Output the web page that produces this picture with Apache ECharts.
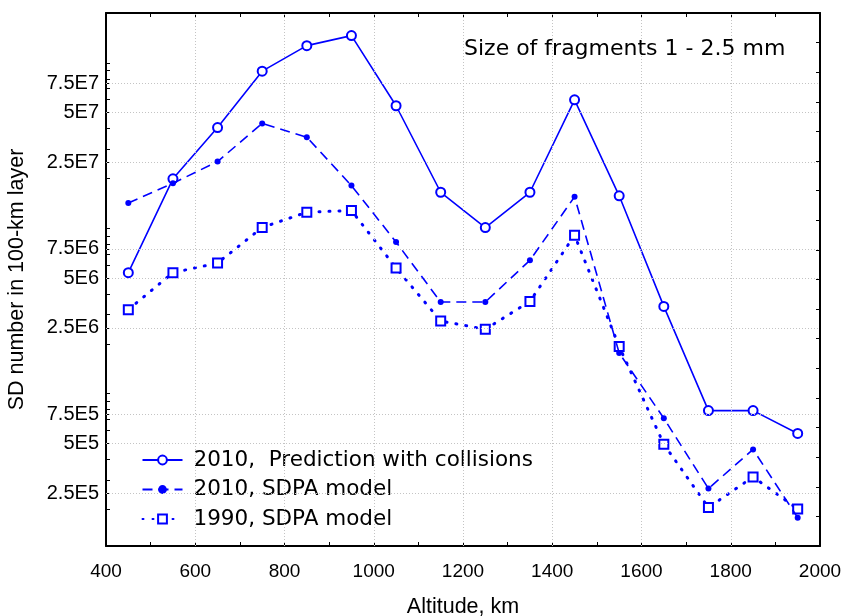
<!DOCTYPE html>
<html>
<head>
<meta charset="utf-8">
<script src="https://cdn.jsdelivr.net/npm/echarts@6/dist/echarts.min.js"></script>
<style>
  html, body { margin: 0; padding: 0; background: #fff; }
  #chart { width: 845px; height: 616px; }
</style>
</head>
<body>
<div id="chart"></div>
<script>
// ---- data ----
const altitudes = [450, 550, 650, 750, 850, 950, 1050, 1150, 1250, 1350, 1450, 1550, 1650, 1750, 1850, 1950];
const prediction2010 = [5.39e6, 1.99e7, 4.06e7, 8.9e7, 1.27e8, 1.46e8, 5.5e7, 1.65e7, 1.01e7, 1.65e7, 5.97e7, 1.57e7, 3.37e6, 7.9e5, 7.9e5, 5.75e5];
const sdpa2010 = [1.42e7, 1.87e7, 2.53e7, 4.3e7, 3.55e7, 1.81e7, 8.25e6, 3.58e6, 3.58e6, 6.4e6, 1.55e7, 1.76e6, 7.1e5, 2.67e5, 4.6e5, 1.78e5];
const sdpa1990 = [3.22e6, 5.39e6, 6.16e6, 1.01e7, 1.25e7, 1.28e7, 5.75e6, 2.75e6, 2.45e6, 3.61e6, 9.06e6, 1.93e6, 4.95e5, 2.05e5, 3.14e5, 2.01e5];
const seriesNames = ['2010,  Prediction with collisions', '2010, SDPA model', '1990, SDPA model'];
const yTickValues = [2.5e5, 5e5, 7.5e5, 2.5e6, 5e6, 7.5e6, 2.5e7, 5e7, 7.5e7];
const yTickLabels = ['2.5E5', '5E5', '7.5E5', '2.5E6', '5E6', '7.5E6', '2.5E7', '5E7', '7.5E7'];
const yMinorTickValues = [2e5, 3e5, 4e5, 6e5, 7e5, 8e5, 9e5, 1e6, 2e6, 3e6, 4e6, 6e6, 7e6, 8e6, 9e6, 1e7, 2e7, 3e7, 4e7, 6e7, 7e7, 8e7, 9e7, 1e8, 2e8];
const xTickLabelValues = [400, 600, 800, 1000, 1200, 1400, 1600, 1800, 2000];
const xGridValues = [600, 800, 1000, 1200, 1400, 1600, 1800];
const xMinorTickValues = [400, 500, 600, 700, 800, 900, 1000, 1100, 1200, 1300, 1400, 1500, 1600, 1700, 1800, 1900, 2000];
const annotation = 'Size of fragments 1 - 2.5 mm';
const xName = 'Altitude, km';
const yName = 'SD number in 100-km layer';

// ---- chart ----
const FONT = 'Liberation Sans';
const WIDE = 'DejaVu Sans';
const BLUE = '#0000ff';
const chart = echarts.init(document.getElementById('chart'), null, { renderer: 'canvas' });

function pairs(vals) { return altitudes.map((a, i) => [a, vals[i]]); }
function yLabel(v) {
  let best = 0, bd = Infinity;
  yTickValues.forEach((t, i) => { const d = Math.abs(Math.log10(t) - Math.log10(v)); if (d < bd) { bd = d; best = i; } });
  return yTickLabels[best];
}

const gridStyle = { color: '#c4c4c4', width: 1, type: [1, 2] };

chart.setOption({
  animation: false,
  backgroundColor: '#fff',
  textStyle: { fontFamily: FONT },
  title: {
    text: annotation,
    left: 459, top: 33,
    textStyle: { fontFamily: WIDE, fontSize: 22, fontWeight: 'normal', color: '#000' }
  },
  legend: {
    orient: 'vertical',
    left: 136.5, top: 444,
    itemWidth: 40, itemHeight: 11, itemGap: 7.5,
    textStyle: { fontFamily: WIDE, fontSize: 21.5, color: '#000', padding: [0, 0, 0, 6] },
    data: seriesNames
  },
  grid: { left: 106, right: 25, top: 13, bottom: 70, containLabel: false, outerBoundsMode: 'none' },
  xAxis: [{
    type: 'value', min: 400, max: 2000, interval: 200,
    name: xName, nameLocation: 'middle', nameGap: 50,
    nameTextStyle: { fontFamily: FONT, fontSize: 21.5, color: '#000' },
    axisLine: { show: true, onZero: false, lineStyle: { color: '#000', width: 2 } },
    axisTick: { show: true, inside: true, length: 4, customValues: xMinorTickValues, lineStyle: { color: '#000' } },
    axisLabel: { fontFamily: FONT, fontSize: 19, color: '#000', margin: 16, customValues: xTickLabelValues, formatter: v => String(v) },
    splitLine: { show: false }
  }, {
    type: 'value', min: 400, max: 2000, interval: 100, position: 'top',
    axisLine: { show: true, onZero: false, lineStyle: { color: '#000', width: 2 } },
    axisTick: { show: true, inside: true, length: 4, lineStyle: { color: '#000' } },
    axisLabel: { show: false }, splitLine: { show: false }
  }],
  yAxis: [{
    type: 'log', min: 1.2e5, max: 2e8, logBase: 10,
    name: yName, nameLocation: 'middle', nameGap: 78, nameRotate: 90,
    nameTextStyle: { fontFamily: FONT, fontSize: 21.5, color: '#000' },
    axisLine: { show: true, onZero: false, lineStyle: { color: '#000', width: 2 } },
    axisTick: { show: true, inside: true, length: 4, customValues: yMinorTickValues.concat(yTickValues), lineStyle: { color: '#000' } },
    axisLabel: { fontFamily: FONT, fontSize: 20, color: '#000', margin: 7, customValues: yTickValues, formatter: yLabel },
    splitLine: { show: false }
  }, {
    type: 'value', min: 0, max: 18, interval: 1, position: 'right',
    axisLine: { show: true, onZero: false, lineStyle: { color: '#000', width: 2 } },
    axisTick: { show: true, inside: true, length: 4, lineStyle: { color: '#000' } },
    axisLabel: { show: false }, splitLine: { show: false }
  }],
  series: [{
    name: 'grid', type: 'line', data: [], z: 1, silent: true,
    markLine: {
      silent: true, animation: false, symbol: ['none', 'none'],
      label: { show: false }, lineStyle: gridStyle, emphasis: { disabled: true },
      data: yTickValues.map(v => ({ yAxis: v })).concat(xGridValues.map(v => ({ xAxis: v })))
    }
  }, {
    name: seriesNames[0], type: 'line', data: pairs(prediction2010),
    symbol: 'emptyCircle', symbolSize: 9, showAllSymbol: true,
    lineStyle: { color: BLUE, width: 1.6, type: 'solid' },
    itemStyle: { color: BLUE, borderColor: BLUE, borderWidth: 1.2 },
    z: 4
  }, {
    name: seriesNames[1], type: 'line', data: pairs(sdpa2010),
    symbol: 'circle', symbolSize: 6, showAllSymbol: true,
    lineStyle: { color: BLUE, width: 1.6, type: [10, 6] },
    itemStyle: { color: BLUE },
    z: 5
  }, {
    name: seriesNames[2], type: 'line', data: pairs(sdpa1990),
    symbol: 'emptyRect', symbolSize: 9, showAllSymbol: true,
    lineStyle: { color: BLUE, width: 3, type: [1, 9], cap: 'round' },
    itemStyle: { color: BLUE, borderColor: '#3a3aff', borderWidth: 1.2 },
    z: 3
  }]
});
</script>
</body>
</html>
